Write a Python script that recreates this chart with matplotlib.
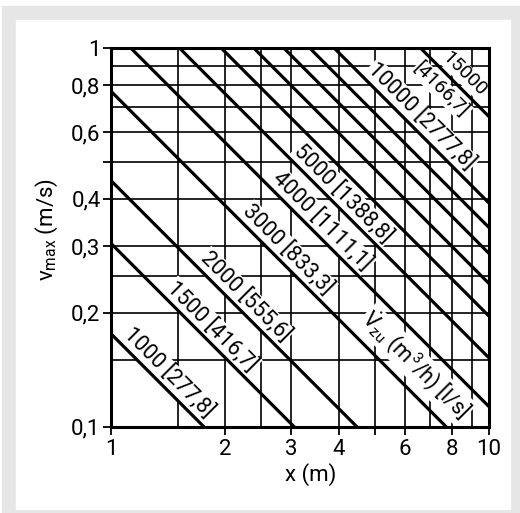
import numpy as np
import matplotlib.pyplot as plt
from matplotlib.patches import Rectangle
from matplotlib.ticker import FixedLocator, FixedFormatter

FONT = 'Roboto'
plt.rcParams['font.family'] = [FONT, 'DejaVu Sans']
plt.rcParams['mathtext.fontset'] = 'custom'
plt.rcParams['mathtext.rm'] = FONT
plt.rcParams['mathtext.it'] = FONT

# supply air flow per curve, m3/h and l/s
flow_m3h = [1000, 1500, 2000, 3000, 4000, 5000, 6000, 7000, 8000, 9000, 10000, 15000]
flow_ls = ['277,8', '416,7', '555,6', '833,3', '1111,1', '1388,8',
           None, None, None, None, '2777,8', '4166,7']
# v_max * x (m2/s)
vx_const = [0.176, 0.305, 0.447, 0.77, 1.13, 1.52, 1.96, 2.39, 2.87, 3.36, 3.9, 6.6]
# x position (m) where each label sits along its curve
label_x = [1.34, 1.75, 2.14, 2.78, 3.42, 3.89, None, None, None, None, 6.25, 8.15]

x_ticks = [1, 2, 3, 4, 5, 6, 8, 10]
x_ticklabels = ['1', '2', '3', '4', '', '6', '8', '10']
x_grid = [1.5, 2.5, 7, 9]
y_ticks = [0.1, 0.2, 0.3, 0.4, 0.5, 0.6, 0.8, 1]
y_ticklabels = ['0,1', '0,2', '0,3', '0,4', '', '0,6', '0,8', '1']
y_grid = [0.15, 0.25, 0.7, 0.9]

fig = plt.figure(figsize=(5.2, 5.13), dpi=100)
fig.add_artist(Rectangle((2/520, 0), 1, 1 - 6/513, transform=fig.transFigure,
                         color='#e6e6e6', zorder=-10))
fig.add_artist(Rectangle((16/520, 4/513), 494/520, 489/513, transform=fig.transFigure,
                         color='white', zorder=-9))

ax = fig.add_axes([0.2135, 0.1682, 0.7269, 0.7376])
ax.set_xscale('log')
ax.set_yscale('log')
ax.set_xlim(1, 10)
ax.set_ylim(0.1, 1)
ax.patch.set_alpha(0)

xs = np.array([1.0, 10.0])
for k in vx_const:
    ax.plot(xs, k / xs, color='black', lw=2.3, zorder=4, solid_capstyle='butt')

lab_kw = dict(textcoords='offset points', rotation=-45, rotation_mode='anchor',
              ha='center', va='center', fontsize=15.5, zorder=3,
              bbox=dict(boxstyle='square,pad=0.05', fc='white', ec='none'))
for q, ls, k, lx in zip(flow_m3h, flow_ls, vx_const, label_x):
    if lx is None:
        continue
    if q == 15000:
        # number above the curve, l/s value below it
        kw = dict(lab_kw, fontsize=14)
        ax.annotate(str(q), xy=(lx, k / lx), xytext=(6.5, 6.5), **kw)
        ax.annotate('[' + ls + ']', xy=(7.98, k / 7.98), xytext=(-7.5, -7.5), **kw)
    else:
        ax.annotate(f'{q} [{ls}]', xy=(lx, k / lx), xytext=(6.5, 6.5), **lab_kw)

# flow legend between the 3000 and 4000 curves
vx_mid = np.sqrt(vx_const[3] * vx_const[4])
ax.annotate(r'$\dot{\mathregular{V}}_{\mathregular{zu}}$ (m$^3$/h) [l/s]',
            xy=(6.4, vx_mid / 6.4), xytext=(0, 0), **lab_kw)

ax.xaxis.set_major_locator(FixedLocator(x_ticks))
ax.xaxis.set_major_formatter(FixedFormatter(x_ticklabels))
ax.xaxis.set_minor_locator(FixedLocator(x_grid))
ax.xaxis.set_minor_formatter(FixedFormatter([''] * len(x_grid)))
ax.yaxis.set_major_locator(FixedLocator(y_ticks))
ax.yaxis.set_major_formatter(FixedFormatter(y_ticklabels))
ax.yaxis.set_minor_locator(FixedLocator(y_grid))
ax.yaxis.set_minor_formatter(FixedFormatter([''] * len(y_grid)))

ax.set_axisbelow(True)
ax.grid(True, which='both', color='black', lw=1.2)
ax.tick_params(which='major', direction='out', length=5.5, width=1.3,
               labelsize=16, pad=2, color='black')
ax.tick_params(which='minor', length=0)
ax.tick_params(axis='x', pad=3)
for sp in ax.spines.values():
    sp.set_linewidth(2.2)
    sp.set_zorder(5)

ax.set_xlabel('x (m)', fontsize=16)
ax.set_ylabel(r'v$_{\mathregular{max}}$ (m/s)', fontsize=16)
ax.xaxis.set_label_coords(0.528, -0.095)
ax.yaxis.set_label_coords(-0.135, 0.522)

fig.savefig('out.png', dpi=100)
